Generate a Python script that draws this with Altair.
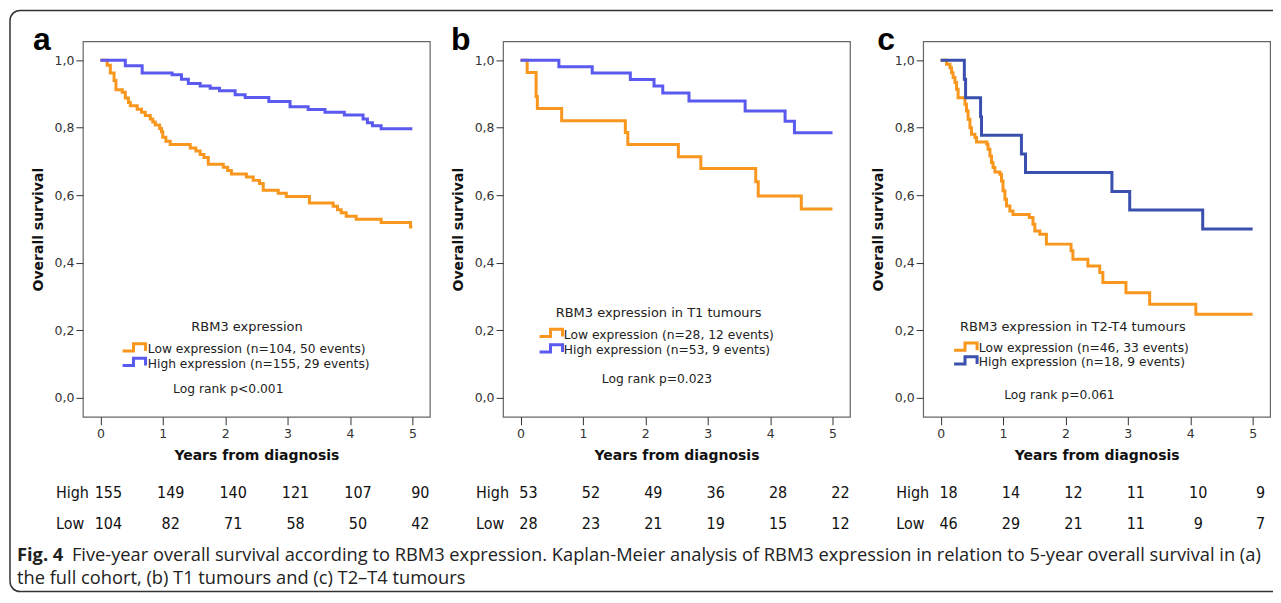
import altair as alt
import pandas as pd

# ---------------- data ----------------
years = [0, 1, 2, 3, 4, 5]

# Panel a: full cohort
a_low_t = [0, 0.11, 0.16, 0.22, 0.25, 0.35, 0.40, 0.45, 0.48, 0.59, 0.66, 0.72, 0.80, 0.84, 0.88, 0.95, 0.98,
           1.00, 1.05, 1.12, 1.44, 1.53, 1.60, 1.66, 1.73, 1.97, 2.04, 2.10, 2.34, 2.45, 2.55, 2.61, 2.85,
           2.98, 3.35, 3.73, 3.80, 3.86, 3.94, 4.10, 4.50, 4.97, 5.0]
a_low_s = [1.0, 0.985, 0.962, 0.94, 0.913, 0.905, 0.888, 0.875, 0.865, 0.855, 0.846, 0.836, 0.826, 0.817,
           0.808, 0.798, 0.788, 0.772, 0.760, 0.750, 0.740, 0.731, 0.721, 0.712, 0.692, 0.683, 0.673, 0.663,
           0.654, 0.644, 0.635, 0.615, 0.606, 0.596, 0.577, 0.567, 0.557, 0.548, 0.538, 0.529, 0.519, 0.506, 0.506]
a_high_t = [0, 0.40, 0.67, 1.15, 1.30, 1.41, 1.60, 1.76, 1.91, 2.16, 2.32, 2.70, 3.04, 3.33, 3.60, 3.91,
            4.21, 4.28, 4.36, 4.50, 5.0]
a_high_s = [1.0, 0.984, 0.962, 0.957, 0.944, 0.931, 0.924, 0.917, 0.910, 0.898, 0.890, 0.878, 0.862, 0.854,
            0.846, 0.838, 0.826, 0.815, 0.806, 0.797, 0.797]
a_high_counts = [155, 149, 140, 121, 107, 90]
a_low_counts = [104, 82, 71, 58, 50, 42]

# Panel b: T1 tumours
b_low_t = [0, 0.107, 0.25, 0.27, 0.66, 1.68, 1.72, 2.53, 2.89, 3.77, 3.81, 4.50, 5.0]
b_low_s = [1.0, 0.964, 0.893, 0.857, 0.821, 0.786, 0.750, 0.714, 0.679, 0.640, 0.598, 0.559, 0.559]
b_high_t = [0, 0.615, 1.15, 1.76, 2.14, 2.28, 2.70, 3.60, 4.24, 4.39, 5.0]
b_high_s = [1.0, 0.981, 0.962, 0.943, 0.924, 0.903, 0.879, 0.850, 0.819, 0.785, 0.785]
b_high_counts = [53, 52, 49, 36, 28, 22]
b_low_counts = [28, 23, 21, 19, 15, 12]

# Panel c: T2-T4 tumours
c_low_t = [0, 0.095, 0.15, 0.175, 0.20, 0.23, 0.255, 0.28, 0.39, 0.415, 0.44, 0.47, 0.495, 0.55, 0.575,
           0.74, 0.76, 0.79, 0.815, 0.84, 0.87, 0.95, 0.975, 1.0, 1.03, 1.055, 1.11, 1.16, 1.42, 1.48, 1.51,
           1.59, 1.695, 2.09, 2.12, 2.36, 2.55, 2.60, 2.97, 3.35, 4.09, 5.0]
c_low_s = [1.0, 0.988, 0.978, 0.963, 0.949, 0.934, 0.914, 0.889, 0.870, 0.850, 0.825, 0.800, 0.781, 0.771,
           0.758, 0.751, 0.736, 0.716, 0.697, 0.682, 0.669, 0.662, 0.642, 0.613, 0.588, 0.568, 0.553, 0.543,
           0.534, 0.514, 0.494, 0.484, 0.455, 0.435, 0.410, 0.390, 0.371, 0.341, 0.311, 0.277, 0.247, 0.247]
c_high_t = [0, 0.38, 0.40, 0.64, 0.655, 1.295, 1.36, 2.745, 3.03, 4.20, 5.0]
c_high_s = [1.0, 0.944, 0.889, 0.833, 0.778, 0.722, 0.667, 0.611, 0.556, 0.50, 0.50]
c_high_counts = [18, 14, 12, 11, 10, 9]
c_low_counts = [46, 29, 21, 11, 9, 7]

caption_bold = "Fig. 4"
caption_line1 = ("Five-year overall survival according to RBM3 expression. Kaplan-Meier analysis of RBM3 "
                 "expression in relation to 5-year overall survival in (a)")
caption_line2 = "the full cohort, (b) T1 tumours and (c) T2\u2013T4 tumours"

# ---------------- styling ----------------
ORANGE = "#F8961D"
BLUE_AB = "#5A5AF0"
BLUE_C = "#3B50AE"
SANS = "DejaVu Sans"
NARROW = "Liberation Sans Narrow, DejaVu Sans Condensed, Liberation Sans"
STEP = "M-1,0.32H-0.05V-0.32H1V0.32"
W, H = 347.5, 376

XS = alt.Scale(domain=[-0.28, 5.28], nice=False, zero=False)
YS = alt.Scale(domain=[-0.057, 1.056], nice=False, zero=False)

X_AXIS = alt.Axis(values=years, format="d", title="Years from diagnosis", grid=False, domain=False,
                  tickSize=8, tickColor="#333", labelPadding=3, labelFont=SANS, labelFontSize=12.5,
                  labelColor="#333", titleFont=SANS, titleFontSize=14, titleFontWeight="bold",
                  titleColor="#111", titlePadding=8)
Y_AXIS = alt.Axis(values=[0, 0.2, 0.4, 0.6, 0.8, 1.0],
                  labelExpr="replace(format(datum.value, '.1f'), '.', ',')",
                  title="Overall survival", grid=False, domain=False, tickSize=7, tickColor="#333",
                  labelPadding=2, labelFont=SANS, labelFontSize=12.5, labelColor="#333",
                  titleFont=SANS, titleFontSize=14, titleFontWeight="bold", titleColor="#111",
                  titlePadding=9)


def enc_x():
    return alt.X("t:Q", scale=XS, axis=X_AXIS)


def enc_y():
    return alt.Y("s:Q", scale=YS, axis=Y_AXIS)


def panel(low_t, low_s, high_t, high_s, blue, legend_title, low_label, high_label, logrank,
          high_counts, low_counts, letter, ann, extra=None):
    color = alt.Color("g:N", scale=alt.Scale(domain=["Low", "High"], range=[ORANGE, blue]), legend=None)
    df_low = pd.DataFrame({"t": low_t, "s": low_s, "g": "Low"})
    df_high = pd.DataFrame({"t": high_t, "s": high_s, "g": "High"})
    low = alt.Chart(df_low).mark_line(interpolate="step-after", strokeWidth=3).encode(
        x=enc_x(), y=enc_y(), color=color)
    high = alt.Chart(df_high).mark_line(interpolate="step-after", strokeWidth=3).encode(
        x=enc_x(), y=enc_y(), color=color)

    sym_df = pd.DataFrame({"t": [ann["sym_t"]] * 2,
                           "s": [ann["low_s"] + 0.005, ann["high_s"] + 0.005],
                           "g": ["Low", "High"]})
    sym = alt.Chart(sym_df).mark_point(shape=STEP, filled=False, strokeWidth=3, size=530, opacity=1).encode(
        x=enc_x(), y=enc_y(), color=color)
    lab_df = pd.DataFrame({"t": [ann["label_t"]] * 2, "s": [ann["low_s"], ann["high_s"]],
                           "label": [low_label, high_label]})
    labs = alt.Chart(lab_df).mark_text(align="left", baseline="middle", font=SANS, fontSize=12.3,
                                       color="#222").encode(x=enc_x(), y=enc_y(), text="label:N")
    tit_df = pd.DataFrame({"t": [ann["title_t"], ann["lr_t"]], "s": [ann["title_s"], ann["lr_s"]],
                           "label": [legend_title, logrank], "fs": [13.0, 12.3]})
    tits = alt.Chart(tit_df).mark_text(align="center", baseline="middle", font=SANS, color="#222").encode(
        x=enc_x(), y=enc_y(), text="label:N", size=alt.Size("fs:Q", scale=None, legend=None))

    hi_df = pd.DataFrame({"t": years, "label": [str(v) for v in high_counts]})
    lo_df = pd.DataFrame({"t": years, "label": [str(v) for v in low_counts]})
    tbl_kw = dict(font=NARROW, fontSize=16, color="#111", baseline="middle")
    hi_txt = alt.Chart(hi_df).mark_text(align="center", dx=8, **tbl_kw).encode(
        x=enc_x(), y=alt.value(452), text="label:N")
    lo_txt = alt.Chart(lo_df).mark_text(align="center", dx=8, **tbl_kw).encode(
        x=enc_x(), y=alt.value(483), text="label:N")
    one = pd.DataFrame({"k": [0]})
    hi_lab = alt.Chart(one).mark_text(align="left", text="High", **tbl_kw).encode(
        x=alt.value(-27), y=alt.value(452))
    lo_lab = alt.Chart(one).mark_text(align="left", text="Low", **tbl_kw).encode(
        x=alt.value(-27), y=alt.value(483))
    let = alt.Chart(one).mark_text(align="left", baseline="alphabetic", text=letter,
                                   font="Liberation Sans", fontSize=32, fontWeight="bold",
                                   color="#000").encode(x=alt.value(ann["letter_x"]), y=alt.value(9))
    layers = []
    if extra:
        layers += extra
    layers += [low, high, sym, labs, tits, hi_txt, lo_txt, hi_lab, lo_lab, let]
    return alt.layer(*layers).properties(width=W, height=H)


one = pd.DataFrame({"k": [0]})
# outer rounded frame of the figure; its right side runs past the picture edge and is clipped
border = alt.Chart(one).mark_rect(fill="white", fillOpacity=0, stroke="#333", strokeWidth=1.5,
                                  cornerRadius=10).encode(
    x=alt.value(-73), x2=alt.value(1203), y=alt.value(-31), y2=alt.value(551))
cap_kw = dict(baseline="alphabetic", align="left", font="Open Sans", fontSize=18.3, color="#222")
cap_b = alt.Chart(one).mark_text(text=caption_bold, fontWeight="bold", **cap_kw).encode(
    x=alt.value(-66), y=alt.value(520))
cap_1 = alt.Chart(one).mark_text(text=caption_line1, **cap_kw).encode(
    x=alt.value(-11), y=alt.value(520))
cap_2 = alt.Chart(one).mark_text(text=caption_line2, **cap_kw).encode(
    x=alt.value(-66), y=alt.value(543))

pa = panel(a_low_t, a_low_s, a_high_t, a_high_s, BLUE_AB, "RBM3 expression",
           "Low expression (n=104, 50 events)", "High expression (n=155, 29 events)", "Log rank p<0.001",
           a_high_counts, a_low_counts, "a",
           dict(title_t=2.35, title_s=0.21, sym_t=0.54, label_t=0.76, low_s=0.144, high_s=0.101,
                lr_t=2.05, lr_s=0.025, letter_x=-50),
           extra=[border, cap_b, cap_1, cap_2])
pb = panel(b_low_t, b_low_s, b_high_t, b_high_s, BLUE_AB, "RBM3 expression in T1 tumours",
           "Low expression (n=28, 12 events)", "High expression (n=53, 9 events)", "Log rank p=0.023",
           b_high_counts, b_low_counts, "b",
           dict(title_t=2.214, title_s=0.2495, sym_t=0.49, label_t=0.695, low_s=0.187, high_s=0.141,
                lr_t=2.187, lr_s=0.054, letter_x=-52))
pc = panel(c_low_t, c_low_s, c_high_t, c_high_s, BLUE_C, "RBM3 expression in T2-T4 tumours",
           "Low expression (n=46, 33 events)", "High expression (n=18, 9 events)", "Log rank p=0.061",
           c_high_counts, c_low_counts, "c",
           dict(title_t=2.12, title_s=0.2105, sym_t=0.40, label_t=0.6125, low_s=0.146, high_s=0.1055,
                lr_t=1.903, lr_s=0.007, letter_x=-46))

chart = alt.hconcat(pa, pb, pc, spacing=72.8, bounds="flush").resolve_scale(color="independent").configure(
    padding={"left": 0, "top": 0, "right": -13, "bottom": 0}
).configure_view(stroke="#666", strokeWidth=1.2)

chart.save("out.html", embed_options={"renderer": "svg", "actions": False})
